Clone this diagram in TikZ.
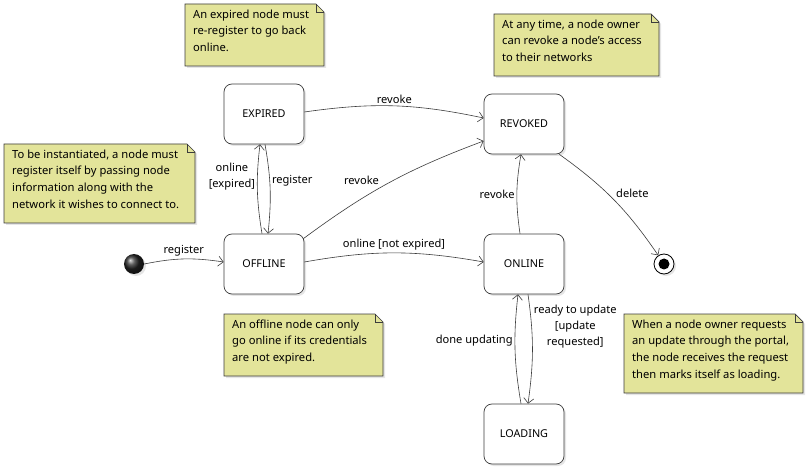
\documentclass[tikz,border=0pt]{standalone}
\usepackage{fontspec}
\setmainfont{Noto Sans}
\usetikzlibrary{arrows.meta, calc, shadows}

\definecolor{notefill}{RGB}{227,228,154}
\definecolor{lineclr}{RGB}{60,60,60}

\tikzset{
    state/.style={draw=lineclr, fill=white, rounded corners=8pt, minimum width=80pt, minimum height=60pt,
        line width=0.7pt, font=\fontsize{10.8}{13}\selectfont,
        drop shadow={shadow xshift=2pt, shadow yshift=-2pt, opacity=0.2}},
    trans/.style={draw=lineclr, line width=0.6pt, -{Straight Barb[length=5pt, width=10pt, line width=0.6pt]}},
    lbl/.style={font=\fontsize{11.1}{16}\selectfont, inner sep=2pt, align=center},
    memo/.style={fill=notefill, draw=lineclr, line width=0.7pt,
        drop shadow={shadow xshift=2pt, shadow yshift=-2pt, opacity=0.2}},
    memotext/.style={anchor=north west, align=left, inner sep=0pt, font=\fontsize{11.2}{16.7}\selectfont}
}

% 便签: 名称, x, y, 宽, 高, 文字
\newcommand{\drawnote}[6]{%
    \filldraw[memo] (#2,#3) -- ++(#4-8,0) -- ++(8,8) -- ++(0,#5-8) -- ++(-#4,0) -- cycle;
    \draw[lineclr, line width=0.7pt] (#2+#4-8,#3) -- ++(0,8) -- ++(8,0);
    \node[memotext] (#1) at (#2+8,#3+5.5) {#6};
}

\begin{document}
\begin{tikzpicture}[x=1pt, y=-1pt]
    \useasboundingbox[fill=white] (0,0) rectangle (807,468);

    % 状态
    \node[state] (exp) at (264,114) {EXPIRED};
    \node[state] (off) at (264,264) {OFFLINE};
    \node[state] (rev) at (524,124) {REVOKED};
    \node[state] (on)  at (524,264) {ONLINE};
    \node[state] (ld)  at (524,434) {LOADING};

    % 初始与终止
    \node[circle, ball color=black!85, minimum size=20pt, inner sep=0pt,
        drop shadow={shadow xshift=2pt, shadow yshift=-2pt, opacity=0.2}] (init) at (134,264) {};
    \node[circle, draw=black, fill=white, minimum size=20pt, inner sep=0pt, line width=0.8pt,
        drop shadow={shadow xshift=2pt, shadow yshift=-2pt, opacity=0.2}] (fin) at (664,264) {};
    \fill (fin.center) circle[radius=5.5pt];

    % 转换
    \draw[trans] (init.east) to[bend left=10] node[lbl, above] {register} ($(off.west)+(0,-2)$);
    \draw[trans] ($(off.north)+(-2,0)$) to[bend left=8]
        node[lbl, left, pos=0.65] {online\\{}[expired]} ($(exp.south)+(-4,0)$);
    \draw[trans] ($(exp.south)+(1,0)$) to[bend left=8]
        node[lbl, right, pos=0.4] {register} ($(off.north)+(4,0)$);
    \draw[trans] ($(exp.east)+(0,-2)$) to[bend left=10] node[lbl, above] {revoke} ($(rev.west)+(0,-6)$);
    \draw[trans] ($(off.north east)+(-1,5)$) to[bend left=8]
        node[lbl, above left, pos=0.45] {revoke} ($(rev.west)+(0,17)$);
    \draw[trans] ($(off.east)+(0,-2)$) to[bend left=10]
        node[lbl, above] {online [not expired]} ($(on.west)+(0,-2)$);
    \draw[trans] ($(on.north)+(-4,0)$) to[bend left=9] node[lbl, left] {revoke} ($(rev.south)+(-3,0)$);
    \draw[trans] ($(rev.south east)+(-5,0)$) to[bend left=10] node[lbl, above right] {delete} (fin);
    \draw[trans] ($(on.south)+(4,0)$) to[bend left=8]
        node[lbl, right, pos=0.28] {ready to update\\{}[update\\requested]} ($(ld.north)+(4,0)$);
    \draw[trans] ($(ld.north)+(-3,0)$) to[bend left=8]
        node[lbl, left, pos=0.58] {done updating} ($(on.south)+(-6,0)$);

    % 注释
    \drawnote{nexp}{185}{4}{139}{62}{An expired node must\\re-register to go back\\online.}
    \drawnote{ninit}{4}{144}{191}{79}{To be instantiated, a node must\\register itself by passing node\\information along with the\\network it wishes to connect to.}
    \drawnote{nrev}{494}{14}{165}{62}{At any time, a node owner\\can revoke a node's access\\to their networks}
    \drawnote{noff}{224}{314}{159}{62}{An offline node can only\\go online if its credentials\\are not expired.}
    \drawnote{nld}{624}{314}{179}{79}{When a node owner requests\\an update through the portal,\\the node receives the request\\then marks itself as loading.}
\end{tikzpicture}
\end{document}
